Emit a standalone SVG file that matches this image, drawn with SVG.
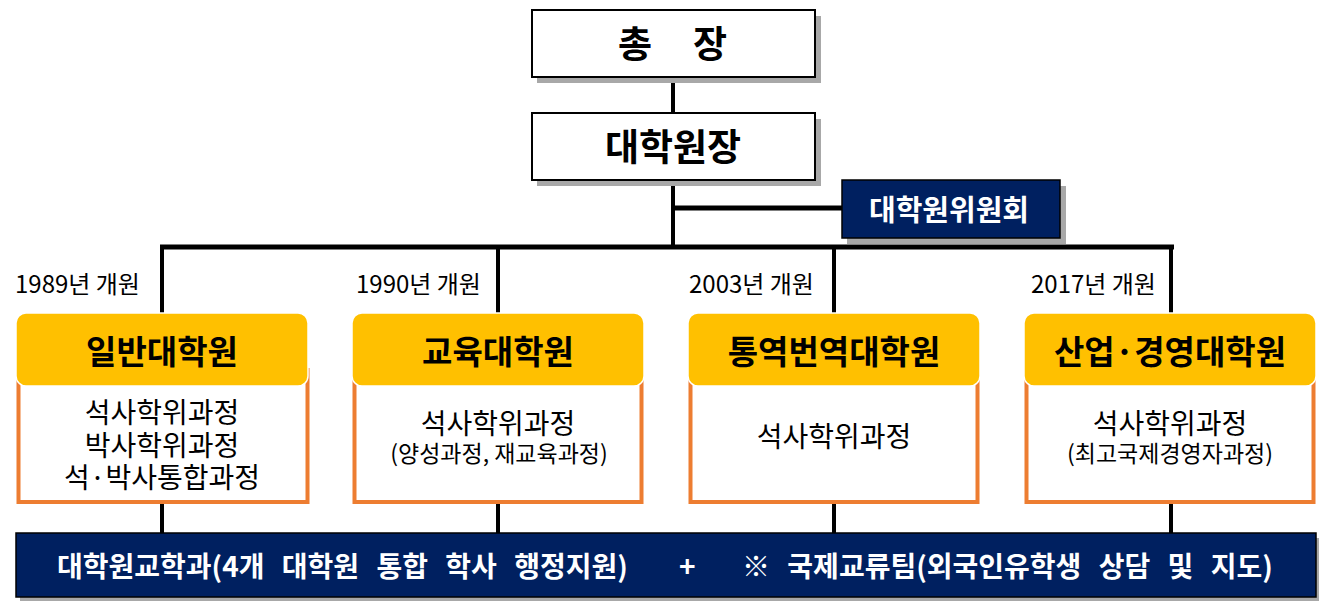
<svg xmlns="http://www.w3.org/2000/svg" width="1319" height="601" viewBox="0 0 1319 601">
<style>
text{font-family:"Noto Sans CJK KR","Malgun Gothic",sans-serif}
.shadow{fill:#a8a8a8}
.wbox{fill:#fff;stroke:#000;stroke-width:2}
.navy{fill:#002060;stroke:#000;stroke-width:1.5}
.head{fill:#FFC000;stroke:#fff;stroke-width:1.5}
.body{fill:#fff;stroke:#ED7D31;stroke-width:4}
.line{stroke:#000;stroke-width:5;fill:none}
.line4{stroke:#000;stroke-width:4;fill:none}
.t1{font-size:37px;font-weight:700;fill:#000;text-anchor:middle}
.tw{font-size:29px;font-weight:700;fill:#fff;text-anchor:middle}
.th{font-size:33px;font-weight:700;fill:#000;text-anchor:middle}
.tb{font-size:28px;fill:#000;text-anchor:middle}
.ts{font-size:23px}
.ty{font-size:24px;fill:#000}
.bar{font-size:28px;font-weight:700;fill:#fff;word-spacing:11px}
</style>
<g id="connectors">
<path class="line4" d="M673 77V113"/>
<path class="line4" d="M673 180V247"/>
<path class="line" d="M673 208H842"/>
<path class="line" d="M160 247H1174"/>
<path class="line4" d="M162 247V314M498 247V314M834 247V314M1171 247V314"/>
<path class="line4" d="M162 502V533M498 502V533M834 502V533M1171 502V533"/>
</g>
<g id="president">
<rect class="shadow" x="537" y="16" width="284" height="67"/>
<rect class="wbox" x="532" y="10" width="283" height="67"/>
<text class="t1" y="58"><tspan x="635">총</tspan><tspan x="710">장</tspan></text>
</g>
<g id="dean">
<rect class="shadow" x="537" y="119" width="284" height="67"/>
<rect class="wbox" x="532" y="113" width="283" height="67"/>
<text class="t1" x="673" y="161">대학원장</text>
</g>
<g id="committee">
<rect class="shadow" x="847" y="186" width="219" height="58"/>
<rect class="navy" x="842" y="180" width="218" height="58"/>
<text class="tw" x="949" y="221">대학원위원회</text>
</g>
<g id="general">
<text class="ty" x="15" y="293">1989년 개원</text>
<rect class="body" x="18.5" y="370" width="289" height="132"/>
<rect class="head" x="16" y="313" width="292" height="73" rx="10"/>
<text class="th" x="162" y="364">일반대학원</text>
<text class="tb"><tspan x="162" y="423">석사학위과정</tspan><tspan x="162" y="456">박사학위과정</tspan><tspan x="162" y="488">석·박사통합과정</tspan></text>
</g>
<g id="education">
<text class="ty" x="356" y="293">1990년 개원</text>
<rect class="body" x="354.5" y="370" width="287" height="132"/>
<rect class="head" x="352" y="313" width="292" height="73" rx="10"/>
<text class="th" x="498" y="364">교육대학원</text>
<text class="tb"><tspan x="498" y="434">석사학위과정</tspan><tspan class="ts" x="499" y="462">(양성과정, 재교육과정)</tspan></text>
</g>
<g id="interpretation">
<text class="ty" x="689" y="293">2003년 개원</text>
<rect class="body" x="690.5" y="370" width="287" height="132"/>
<rect class="head" x="688" y="313" width="292" height="73" rx="10"/>
<text class="th" x="834" y="364">통역번역대학원</text>
<text class="tb" x="834" y="447">석사학위과정</text>
</g>
<g id="business">
<text class="ty" x="1031" y="293">2017년 개원</text>
<rect class="body" x="1026.5" y="370" width="287" height="132"/>
<rect class="head" x="1024" y="313" width="292" height="73" rx="10"/>
<text class="th" x="1170" y="364">산업·경영대학원</text>
<text class="tb"><tspan x="1170" y="434">석사학위과정</tspan><tspan class="ts" x="1170" y="462">(최고국제경영자과정)</tspan></text>
</g>
<g id="office">
<rect class="shadow" x="20" y="538" width="1299" height="63"/>
<rect class="navy" x="16" y="533" width="1300" height="64"/>
<text class="bar" y="577"><tspan x="57">대학원교학과(4개 대학원 통합 학사 행정지원)</tspan><tspan x="679">+</tspan><tspan x="742">※ 국제교류팀(외국인유학생 상담 및 지도)</tspan></text>
</g>
</svg>
